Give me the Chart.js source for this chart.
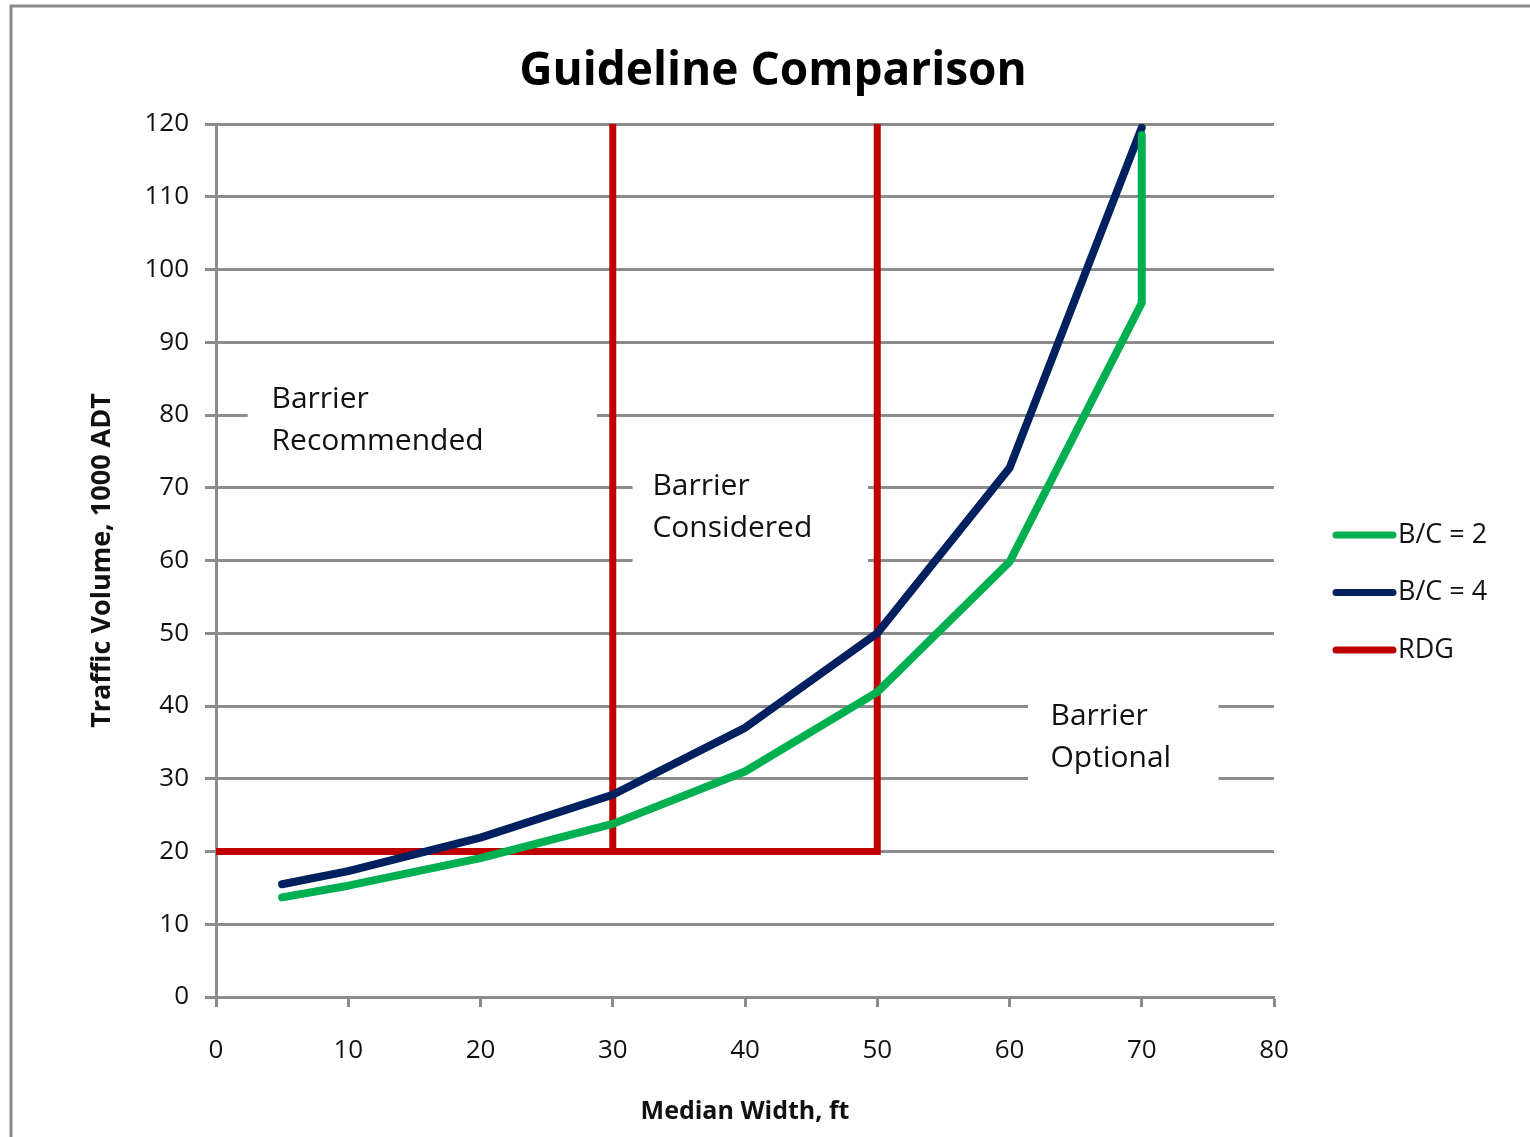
<!DOCTYPE html>
<html>
<head>
<meta charset="utf-8">
<script src="https://cdn.jsdelivr.net/npm/chart.js@4.4.1/dist/chart.umd.min.js"></script>
<style>
    html, body { margin: 0; padding: 0; background: #fff; }
    #wrap { width: 1530px; height: 1137px; position: relative; }
</style>
</head>
<body>
<div id="wrap"><canvas id="mainChart"></canvas></div>
<script>
// values
const WIDTH_BC2 = [5, 10, 20, 30, 40, 50, 60, 70, 70];
const VOLUME_BC2 = [13.7, 15.3, 19.1, 23.8, 31, 41.9, 59.8, 95.4, 118.5];
const WIDTH_BC4 = [5, 10, 20, 30, 40, 50, 60, 70];
const VOLUME_BC4 = [15.5, 17.3, 21.9, 27.8, 37, 50, 72.7, 119.5];
const WIDTH_RDG = [0, 50, 50, 40, 30, 30];
const VOLUME_RDG = [20, 20, 120, null, 20, 120];
const SERIES_NAMES = ['B/C = 2', 'B/C = 4', 'RDG'];
const ZONE_LABELS = [['Barrier', 'Recommended'], ['Barrier', 'Considered'], ['Barrier', 'Optional']];
const CHART_TITLE = 'Guideline Comparison';

const FONT = '"Open Sans", "DejaVu Sans", sans-serif';
const GRID = '#8c8c8c';

function points(xs, ys) {
    return xs.map((x, i) => ({ x: x, y: ys[i] }));
}

// white boxes with the zone text, in data units (box: x0, x1, yTop, yBottom)
const ZONES = [
    { text: ZONE_LABELS[0], box: [2.4, 28.8, 85.5, 72.4], at: [4.2, 82.2] },
    { text: ZONE_LABELS[1], box: [31.5, 49.3, 73.5, 58.4], at: [33.0, 70.2] },
    { text: ZONE_LABELS[2], box: [61.4, 75.8, 42.5, 28.2], at: [63.1, 38.6] }
];

const zonePlugin = {
    id: 'zones',
    beforeDatasetsDraw(chart) {
        const { ctx, scales: { x, y } } = chart;
        ctx.save();
        ZONES.forEach(z => {
            const x0 = x.getPixelForValue(z.box[0]);
            const x1 = x.getPixelForValue(z.box[1]);
            const y0 = y.getPixelForValue(z.box[2]);
            const y1 = y.getPixelForValue(z.box[3]);
            ctx.fillStyle = '#fff';
            ctx.fillRect(x0, y0, x1 - x0, y1 - y0);
            ctx.fillStyle = '#111';
            ctx.font = '30px ' + FONT;
            ctx.textAlign = 'left';
            ctx.textBaseline = 'middle';
            const tx = x.getPixelForValue(z.at[0]);
            const ty = y.getPixelForValue(z.at[1]);
            z.text.forEach((t, i) => ctx.fillText(t, tx, ty + i * 42));
        });
        ctx.restore();
    }
};

const framePlugin = {
    id: 'frame',
    afterDraw(chart) {
        const { ctx } = chart;
        ctx.save();
        ctx.strokeStyle = '#8a8a8a';
        ctx.lineWidth = 3;
        ctx.beginPath();
        ctx.moveTo(11, chart.height);
        ctx.lineTo(11, 6);
        ctx.lineTo(chart.width, 6);
        ctx.stroke();

        // title, centred on the whole frame like the original
        ctx.fillStyle = '#000';
        ctx.font = 'bold 46px ' + FONT;
        ctx.textAlign = 'center';
        ctx.textBaseline = 'middle';
        ctx.fillText(CHART_TITLE, 773, 72);

        // legend on the right
        ctx.font = '27px ' + FONT;
        ctx.textAlign = 'left';
        ctx.lineCap = 'round';
        chart.data.datasets.forEach((ds, i) => {
            const yy = 535 + i * 57.5;
            ctx.strokeStyle = ds.borderColor;
            ctx.lineWidth = 7;
            ctx.beginPath();
            ctx.moveTo(1336, yy);
            ctx.lineTo(1393, yy);
            ctx.stroke();
            ctx.fillStyle = '#111';
            ctx.fillText(ds.label, 1398, yy);
        });
        ctx.restore();
    }
};

function createChart() {
    const CTX = document.getElementById('mainChart').getContext('2d');
    return new Chart(CTX, {
        type: 'line',
        data: {
            datasets: [{
                label: SERIES_NAMES[0],
                data: points(WIDTH_BC2, VOLUME_BC2),
                borderColor: '#00b050',
                borderWidth: 8
            }, {
                label: SERIES_NAMES[1],
                data: points(WIDTH_BC4, VOLUME_BC4),
                borderColor: '#002060',
                borderWidth: 8
            }, {
                label: SERIES_NAMES[2],
                data: points(WIDTH_RDG, VOLUME_RDG),
                borderColor: '#c00000',
                borderWidth: 7,
                borderJoinStyle: 'miter',
                borderCapStyle: 'butt',
                spanGaps: false
            }]
        },
        options: {
            responsive: true,
            maintainAspectRatio: false,
            animation: false,
            elements: {
                point: { radius: 0, hoverRadius: 0 },
                line: { tension: 0, borderJoinStyle: 'round', borderCapStyle: 'round' }
            },
            layout: {
                padding: { left: 82, right: 256, top: 124, bottom: 8 }
            },
            scales: {
                x: {
                    type: 'linear',
                    min: 0,
                    max: 80,
                    afterFit(scale) { scale.height = 132; },
                    ticks: {
                        stepSize: 10,
                        padding: 28,
                        color: '#111',
                        font: { family: FONT, size: 26 }
                    },
                    grid: {
                        drawOnChartArea: false,
                        drawTicks: true,
                        tickLength: 10,
                        tickWidth: 3,
                        tickColor: GRID,
                        color: GRID
                    },
                    border: { color: GRID, width: 3 },
                    title: {
                        display: true,
                        text: 'Median Width, ft',
                        color: '#111',
                        padding: { top: 4, bottom: 2 },
                        font: { family: FONT, size: 25, weight: 'bold' }
                    }
                },
                y: {
                    min: 0,
                    max: 120,
                    afterFit(scale) { scale.width = 134; },
                    ticks: {
                        stepSize: 10,
                        padding: 16,
                        color: '#111',
                        font: { family: FONT, size: 26 }
                    },
                    grid: {
                        color: GRID,
                        lineWidth: 3,
                        tickLength: 11,
                        tickColor: GRID
                    },
                    border: { color: GRID, width: 3 },
                    title: {
                        display: true,
                        text: 'Traffic Volume, 1000 ADT',
                        color: '#111',
                        font: { family: FONT, size: 27, weight: 'bold' }
                    }
                }
            },
            plugins: {
                legend: { display: false },
                tooltip: { enabled: false },
                title: { display: false }
            }
        },
        plugins: [zonePlugin, framePlugin]
    });
}

createChart();
</script>
</body>
</html>
